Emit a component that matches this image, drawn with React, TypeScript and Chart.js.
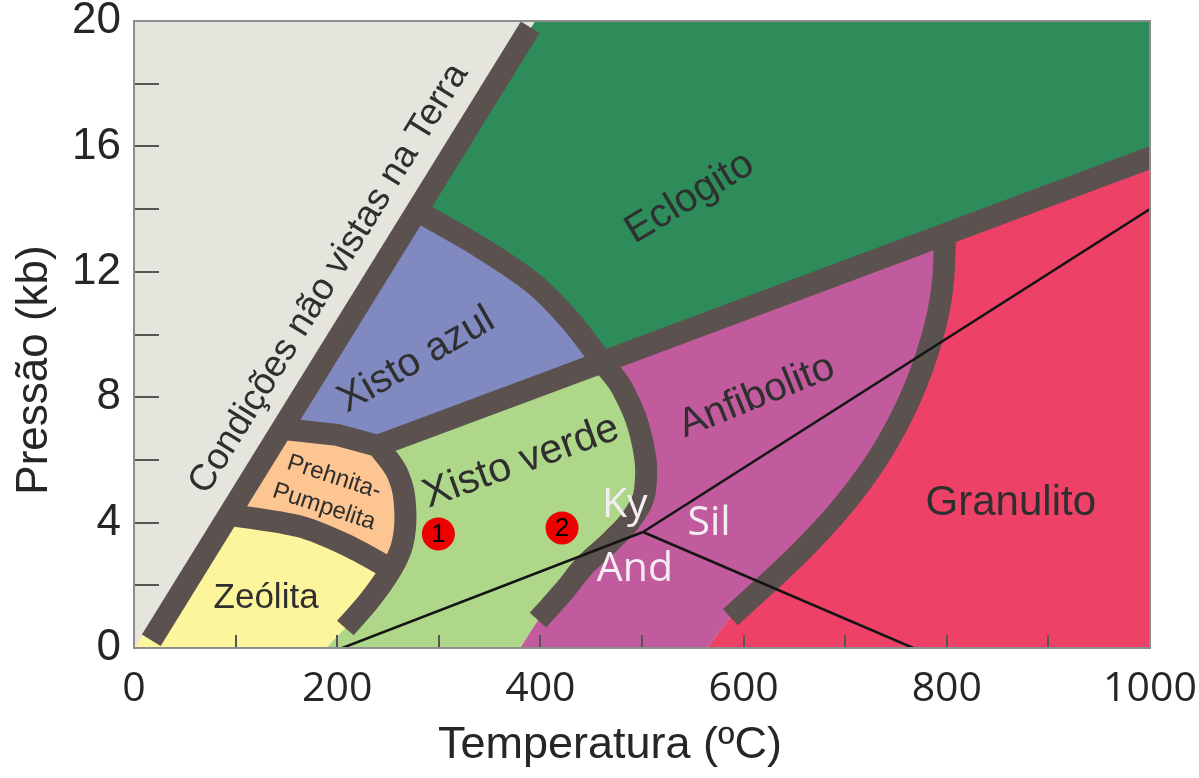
import React, { useEffect, useRef } from 'react';
import { Chart, registerables } from 'chart.js';

Chart.register(...registerables);

// ---------- axes ----------
const X_MIN = 0;
const X_MAX = 1000;
const X_STEP = 100;
const X_LABEL_EVERY = 200;
const Y_MIN = 0;
const Y_MAX = 20;
const Y_STEP = 2;
const Y_LABEL_EVERY = 4;
const xTitle = 'Temperatura (ºC)';
const yTitle = 'Pressão (kb)';

// ---------- facies regions: [T (°C), P (kb)] ----------
const condicoesRegion = [[0, 0], [0, 20], [1000, 20], [1000, 0]];
const eclogitoRegion = [[277, 13.97], [395, 20], [1000, 20], [1000, 15.7], [461, 9.12], [429, 10.46], [392.7, 11.64], [340.6, 12.79]];
const xistoAzulRegion = [[277, 13.97], [340.6, 12.79], [392.7, 11.64], [429, 10.46], [461, 9.12], [240, 6.45], [200, 6.8], [145, 7.0]];
const prehnitaRegion = [[145, 7.0], [200, 6.8], [240, 6.45], [260, 5.52], [267, 4.4], [264, 3.29], [252, 2.45], [208, 3.3], [163, 3.88], [92, 4.27]];
const zeolitaRegion = [[92, 4.27], [163, 3.88], [208, 3.3], [252, 2.45], [232, 1.53], [208, 0.64], [189, 0], [0, 0]];
const xistoVerdeRegion = [[240, 6.45], [461, 9.12], [481.3, 8.23], [500, 6.63], [503, 5.04], [491, 4.18], [470.5, 3.44], [444, 2.65], [424, 1.85], [397.6, 0.89], [380, 0], [189, 0], [208, 0.64], [232, 1.53], [252, 2.45], [264, 3.29], [267, 4.4], [260, 5.52]];
const anfibolitoRegion = [[461, 9.12], [798.5, 13.2], [795.3, 11.42], [784.8, 9.82], [764, 7.97], [733.5, 6.12], [697.6, 4.53], [654, 3.0], [587, 0.98], [564, 0], [380, 0], [397.6, 0.89], [424, 1.85], [444, 2.65], [470.5, 3.44], [491, 4.18], [503, 5.04], [500, 6.63], [481.3, 8.23]];
const granulitoRegion = [[798.5, 13.2], [1000, 15.64], [1000, 0], [564, 0], [587, 0.98], [654, 3.0], [697.6, 4.53], [733.5, 6.12], [764, 7.97], [784.8, 9.82], [795.3, 11.42]];

// ---------- facies boundaries ----------
const condicoesBoundary = [[17, 0.25], [390, 19.8]];
const azulEclogitoBoundary = [[277, 13.97], [340.6, 12.79], [392.7, 11.64], [429, 10.46], [461, 9.12]];
const azulVerdeBoundary = [[143, 7.0], [200, 6.8], [240, 6.45], [461, 9.12]];
const prehnitaVerdeBoundary = [[240, 6.45], [260, 5.52], [267, 4.4], [264, 3.29], [252, 2.45], [232, 1.53], [208, 0.64]];
const zeolitaPrehnitaBoundary = [[90, 4.27], [163, 3.88], [208, 3.3], [254, 2.5]];
const eclogitoBoundary = [[461, 9.12], [1010, 15.76]];
const verdeAnfibolitoBoundary = [[461, 9.12], [481.3, 8.23], [500, 6.63], [503, 5.04], [491, 4.18], [470.5, 3.44], [444, 2.65], [424, 1.85], [397.6, 0.89]];
const anfibolitoGranulitoBoundary = [[798.5, 13.3], [795.3, 11.42], [784.8, 9.82], [764, 7.97], [733.5, 6.12], [697.6, 4.53], [654, 3.0], [587, 0.98]];

// ---------- Al2SiO5 reactions ----------
const kyAndLine = [[205, 0], [501, 3.7]];
const kySilLine = [[501, 3.7], [1000, 14.0]];
const andSilLine = [[501, 3.7], [767, 0]];

// ---------- samples ----------
const sampleIds = ['1', '2'];
const sampleT = [299.6, 421.3];
const sampleP = [3.64, 3.83];

// ---------- labels ----------
const faciesLabels = ['Condições não vistas na Terra', 'Eclogito', 'Xisto azul', 'Xisto verde', 'Prehnita-', 'Pumpelita', 'Zeólita', 'Anfibolito', 'Granulito'];
const faciesLabelT = [192, 547, 278, 381, 197, 187, 130, 613, 863];
const faciesLabelP = [11.78, 14.36, 9.18, 5.93, 5.45, 4.5, 1.59, 8.02, 4.61];
const mineralLabels = ['Ky', 'Sil', 'And'];
const mineralLabelT = [483, 566, 493];
const mineralLabelP = [4.56, 3.99, 2.52];

// ---------- styles ----------
const SANS = '"Liberation Sans", Arial, sans-serif';
const OPEN = '"Open Sans", "Liberation Sans", sans-serif';
const BAND = '#5b524f';
const TEXT = '#2f2f2f';
const faciesLabelStyle = [
  { size: 37, rot: null as number | null },
  { size: 40, rot: -31 },
  { size: 40, rot: -30 },
  { size: 41, rot: -20 },
  { size: 24, rot: 18 },
  { size: 24, rot: 18 },
  { size: 35, rot: 0 },
  { size: 40, rot: -22 },
  { size: 42, rot: 0 },
];

const toPts = (a: number[][]) => a.map(([x, y]) => ({ x, y }));

const region = (data: number[][], color: string, order: number) => ({
  data: toPts(data),
  backgroundColor: color,
  borderColor: 'rgba(0,0,0,0)',
  borderWidth: 0,
  pointRadius: 0,
  fill: 'shape',
  tension: 0,
  clip: 0,
  order,
});

const band = (data: number[][], tension: number) => ({
  data: toPts(data),
  borderColor: BAND,
  borderWidth: 22,
  borderCapStyle: 'butt',
  borderJoinStyle: 'round',
  pointRadius: 0,
  fill: false,
  tension,
  clip: 0,
  order: 20,
});

const thin = (data: number[][]) => ({
  data: toPts(data),
  borderColor: '#141414',
  borderWidth: 2.5,
  pointRadius: 0,
  fill: false,
  tension: 0,
  clip: 0,
  order: 10,
});

const overlayPlugin = {
  id: 'faciesOverlay',
  afterDatasetsDraw(chart: any) {
    const { ctx, chartArea: a } = chart;
    const xs = chart.scales.x;
    const ys = chart.scales.y;
    const px = (t: number) => xs.getPixelForValue(t);
    const py = (p: number) => ys.getPixelForValue(p);
    ctx.save();
    // inward tick marks
    ctx.strokeStyle = '#555555';
    ctx.lineWidth = 2;
    ys.ticks.forEach((tk: any) => {
      if (tk.value <= Y_MIN || tk.value >= Y_MAX) return;
      const y = Math.round(py(tk.value));
      ctx.beginPath();
      ctx.moveTo(a.left, y);
      ctx.lineTo(a.left + 25, y);
      ctx.stroke();
    });
    xs.ticks.forEach((tk: any) => {
      if (tk.value <= X_MIN || tk.value >= X_MAX) return;
      const x = Math.round(px(tk.value));
      ctx.beginPath();
      ctx.moveTo(x, a.bottom);
      ctx.lineTo(x, a.bottom - 13);
      ctx.stroke();
    });
    // frame
    ctx.strokeStyle = '#8d8d8d';
    ctx.lineWidth = 2;
    ctx.strokeRect(a.left, a.top, a.right - a.left, a.bottom - a.top);

    // facies labels
    const c0 = condicoesBoundary[0];
    const c1 = condicoesBoundary[1];
    const condAngle = Math.atan2(py(c1[1]) - py(c0[1]), px(c1[0]) - px(c0[0]));
    ctx.fillStyle = TEXT;
    ctx.textAlign = 'center';
    ctx.textBaseline = 'middle';
    faciesLabels.forEach((txt, i) => {
      const st = faciesLabelStyle[i];
      ctx.save();
      ctx.translate(px(faciesLabelT[i]), py(faciesLabelP[i]));
      ctx.rotate(st.rot === null ? condAngle : (st.rot * Math.PI) / 180);
      ctx.font = `${st.size}px ${SANS}`;
      ctx.fillText(txt, 0, 0);
      ctx.restore();
    });
    // mineral labels
    ctx.fillStyle = '#f4eef4';
    ctx.font = `41px ${OPEN}`;
    mineralLabels.forEach((txt, i) => {
      ctx.fillText(txt, px(mineralLabelT[i]), py(mineralLabelP[i]));
    });
    // sample numbers
    ctx.fillStyle = '#000000';
    ctx.font = `26px ${SANS}`;
    sampleIds.forEach((id, i) => {
      ctx.fillText(id, px(sampleT[i]), py(sampleP[i]) + 1);
    });
    ctx.restore();
  },
  afterDraw(chart: any) {
    const { ctx } = chart;
    ctx.save();
    ctx.fillStyle = '#262626';
    ctx.textAlign = 'center';
    ctx.textBaseline = 'middle';
    ctx.font = `45px ${SANS}`;
    ctx.fillText(xTitle, 610, 746);
    ctx.translate(35, 370);
    ctx.rotate(-Math.PI / 2);
    ctx.font = `44px ${SANS}`;
    ctx.fillText(yTitle, 0, 0);
    ctx.restore();
  },
};

export default function App() {
  const ref = useRef<HTMLCanvasElement>(null);
  useEffect(() => {
    const canvas = ref.current;
    if (!canvas) return;
    const datasets: any[] = [
      region(condicoesRegion, '#e5e5de', 40),
      region(eclogitoRegion, '#2e8c5a', 30),
      region(xistoAzulRegion, '#8189c1', 30),
      region(prehnitaRegion, '#fdc591', 30),
      region(zeolitaRegion, '#fcf59b', 30),
      region(xistoVerdeRegion, '#afd789', 30),
      region(anfibolitoRegion, '#c15b9d', 30),
      region(granulitoRegion, '#ee4167', 30),
      band(condicoesBoundary, 0),
      band(azulEclogitoBoundary, 0.3),
      band(azulVerdeBoundary, 0),
      band(prehnitaVerdeBoundary, 0.4),
      band(zeolitaPrehnitaBoundary, 0.3),
      band(eclogitoBoundary, 0),
      band(verdeAnfibolitoBoundary, 0.4),
      band(anfibolitoGranulitoBoundary, 0.4),
      thin(kyAndLine),
      thin(kySilLine),
      thin(andSilLine),
      {
        data: sampleT.map((t, i) => ({ x: t, y: sampleP[i] })),
        showLine: false,
        pointRadius: 16.5,
        pointBackgroundColor: '#ee0000',
        pointBorderWidth: 0,
        pointBorderColor: '#ee0000',
        fill: false,
        order: 0,
      },
    ];
    const chart = new Chart(canvas, {
      type: 'line',
      data: { datasets },
      options: {
        animation: false,
        responsive: false,
        devicePixelRatio: 1,
        events: [],
        layout: { padding: { top: 21, right: 49, left: 0, bottom: 0 } },
        plugins: { legend: { display: false }, tooltip: { enabled: false } },
        scales: {
          x: {
            type: 'linear',
            min: X_MIN,
            max: X_MAX,
            grid: { display: false, drawTicks: false },
            border: { display: false },
            ticks: {
              stepSize: X_STEP,
              autoSkip: false,
              maxRotation: 0,
              padding: 17,
              color: '#262626',
              font: { family: OPEN, size: 41 },
              callback: (v: any) => (Number(v) % X_LABEL_EVERY === 0 ? String(v) : ''),
            },
            afterFit: (s: any) => {
              s.height = 130;
              s.paddingLeft = 0;
              s.paddingRight = 0;
            },
          },
          y: {
            type: 'linear',
            min: Y_MIN,
            max: Y_MAX,
            grid: { display: false, drawTicks: false },
            border: { display: false },
            ticks: {
              stepSize: Y_STEP,
              autoSkip: false,
              padding: 13,
              color: '#262626',
              font: { family: SANS, size: 44 },
              callback: (v: any) => (Number(v) % Y_LABEL_EVERY === 0 ? String(v) : ''),
            },
            afterFit: (s: any) => {
              s.width = 134;
              s.paddingTop = 0;
              s.paddingBottom = 0;
            },
          },
        },
      } as any,
      plugins: [overlayPlugin],
    });
    return () => chart.destroy();
  }, []);
  return (
    <div style={{ position: 'fixed', left: 0, top: 0, width: 1199, height: 778, background: '#ffffff' }}>
      <canvas ref={ref} width={1199} height={778} style={{ display: 'block', width: 1199, height: 778 }} />
    </div>
  );
}
